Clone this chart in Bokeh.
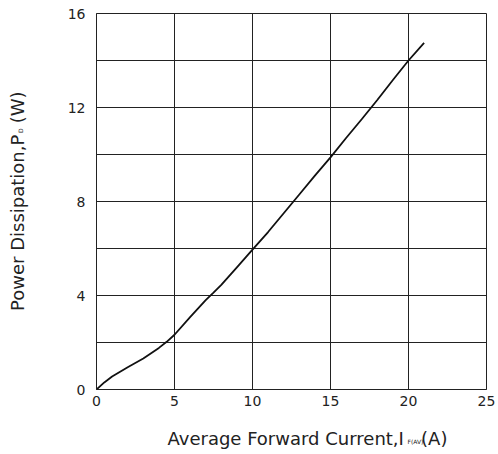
from math import pi
from bokeh.plotting import figure
from bokeh.models import Range1d, FixedTicker, Label
from bokeh.embed import file_html
from bokeh.resources import INLINE

# Data
current = [0, 0.5, 1, 2, 3, 4, 4.5, 5, 6, 7, 7.5, 8, 9, 10, 11, 12, 13, 14, 15, 16, 17, 18, 19, 20, 21]
power = [0, 0.3, 0.55, 0.95, 1.32, 1.77, 2.03, 2.33, 3.08, 3.8, 4.12, 4.45, 5.2, 5.95, 6.7, 7.5, 8.3, 9.1, 9.88, 10.7, 11.5, 12.32, 13.17, 14.0, 14.75]
x_ticks = [0, 5, 10, 15, 20, 25]
y_ticks = [0, 4, 8, 12, 16]
y_grid_ticks = [0, 2, 4, 6, 8, 10, 12, 14, 16]

FONT = "DejaVu Sans"
NB = "\u00a0"

p = figure(width=498, height=454, output_backend="svg", toolbar_location=None,
           x_range=Range1d(0, 25), y_range=Range1d(0, 16),
           min_border_left=96, min_border_right=12, min_border_top=13, min_border_bottom=65)

p.line(current, power, line_color="#111111", line_width=1.8)

p.xaxis.ticker = FixedTicker(ticks=x_ticks, minor_ticks=[])
p.yaxis.ticker = FixedTicker(ticks=y_ticks, minor_ticks=[])
p.xgrid.ticker = FixedTicker(ticks=x_ticks, minor_ticks=[])
p.ygrid.ticker = FixedTicker(ticks=y_grid_ticks, minor_ticks=[])

for g in (p.xgrid, p.ygrid):
    g.grid_line_color = "#222222"
    g.grid_line_width = 1
    g.grid_line_alpha = 1

for ax in (p.xaxis, p.yaxis):
    ax.axis_line_color = "#222222"
    ax.axis_line_width = 1
    ax.major_tick_out = 0
    ax.major_tick_in = 0
    ax.minor_tick_out = 0
    ax.minor_tick_in = 0
    ax.major_label_text_font = FONT
    ax.major_label_text_font_size = "14px"
    ax.major_label_text_color = "#222222"

p.yaxis.major_label_standoff = 11
p.xaxis.major_label_standoff = 6

p.outline_line_color = "#222222"
p.outline_line_width = 1
p.background_fill_color = "white"
p.border_fill_color = "white"

# Axis titles with subscripts; placed in side panels (not clipped), positioned
# from the frame's lower-left data corner with pixel offsets
lab_kw = dict(x=0, y=0, x_units="data", y_units="data", text_font=FONT,
              text_color="#222222", text_baseline="alphabetic", text_align="left")

p.add_layout(Label(x_offset=71, y_offset=-49, text="Average Forward Current,I" + NB * 3 + "(A)",
                   text_font_size="18px", **lab_kw), "below")
p.add_layout(Label(x_offset=311, y_offset=-52, text="F(AV)",
                   text_font_size="6px", **lab_kw), "below")

p.add_layout(Label(x_offset=-79.5, y_offset=78.5, text="Power Dissipation,P" + NB * 2 + "(W)", angle=pi / 2,
                   text_font_size="18px", **lab_kw), "left")
p.add_layout(Label(x_offset=-76.5, y_offset=256.5, text="D", angle=pi / 2,
                   text_font_size="6px", **lab_kw), "left")

open("out.html", "w").write(file_html(p, INLINE))
